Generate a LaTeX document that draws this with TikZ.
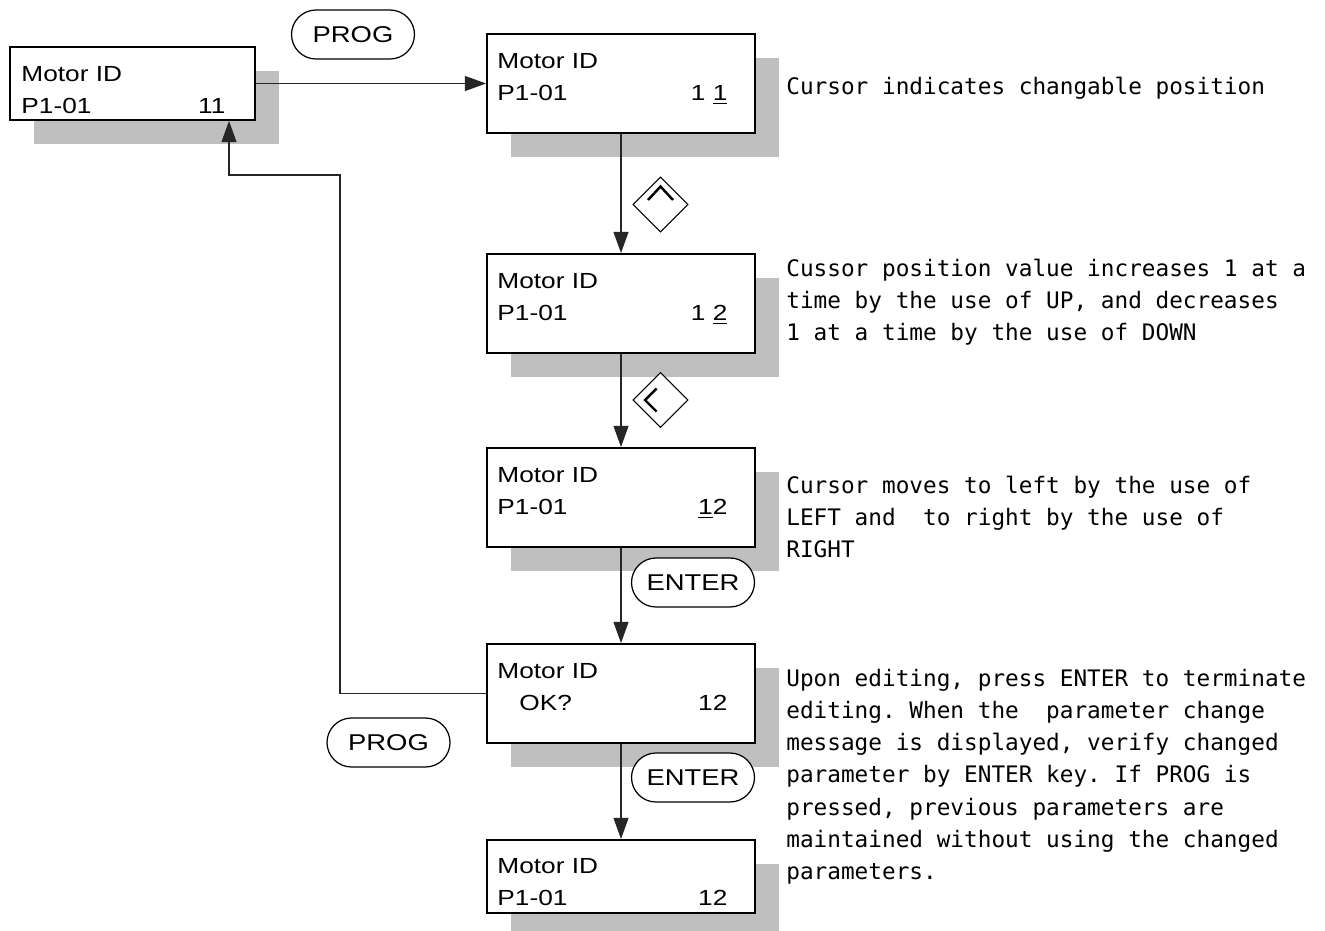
\documentclass[tikz,border=0pt]{standalone}
\usepackage{fontspec}
\usepackage{tikz}
\usetikzlibrary{
    shapes.geometric,
    shapes.misc,
    arrows.meta,
    positioning,
    calc,
    shadows
}
\newfontfamily\lcdfont[FakeStretch=1.2]{Liberation Sans}
\newfontfamily\notefont{DejaVu Sans Mono}
\newlength{\notecell}
\newcommand{\lcdgap}{\hskip 0pt plus 1filll\relax}
\newcommand{\monospaces}{\settowidth{\notecell}{a}%
    \spaceskip=\notecell\relax \xspaceskip=\notecell\relax}

\begin{document}
\begin{tikzpicture}[
            x=0.02cm, y=-0.02cm,
            lcd/.style={draw, line width=1.1pt, fill=white, inner sep=0pt,
                        minimum width=5.36cm, minimum height=1.98cm,
                        drop shadow={shadow xshift=0.48cm, shadow yshift=-0.48cm,
                                     fill=black!25, opacity=1}},
            lcdshort/.style={lcd, minimum height=1.46cm},
            lcdtext/.style={anchor=base west, inner sep=0pt, text width=4.6cm, align=left,
                            font=\lcdfont\fontsize{12.45}{18.7}\selectfont},
            keybox/.style={draw, rounded rectangle, line width=0.7pt, fill=white, inner sep=0pt,
                           minimum width=2.46cm, minimum height=0.98cm,
                           font=\lcdfont\fontsize{13}{15}\selectfont},
            keydiamond/.style={draw, diamond, line width=0.6pt, fill=white, inner sep=0pt,
                               minimum width=1.1cm, minimum height=1.1cm},
            chev/.style={line width=1.4pt},
            note/.style={anchor=base west, inner sep=0pt, text width=12cm, align=left,
                         font=\notefont\fontsize{12.93}{18.37}\selectfont},
            arr/.style={-{Triangle[length=12pt, width=8.5pt]}, line width=0.6pt, black!85}
        ]
            \useasboundingbox (0,0) rectangle (1325,930);

            % displays
            \node[lcdshort, minimum width=4.9cm] (lbox) at (132.5, 83.5) {};
            \node[lcd] (b1) at (621, 83.5) {};
            \node[lcd] (b2) at (621, 303.5) {};
            \node[lcd] (b3) at (621, 497.5) {};
            \node[lcd] (ok) at (621, 693.5) {};
            \node[lcdshort] (b5) at (621, 876.5) {};

            \node[lcdtext, text width=4.08cm] (lboxtxt) at ($(lbox.north west)+(12,35)$)
                {Motor ID\\P1-01\lcdgap 11};
            \node[lcdtext] (b1txt) at ($(b1.north west)+(11,35)$)
                {Motor ID\\P1-01\lcdgap 1 \underline{1}};
            \node[lcdtext] (b2txt) at ($(b2.north west)+(11,35)$)
                {Motor ID\\P1-01\lcdgap 1 \underline{2}};
            \node[lcdtext] (b3txt) at ($(b3.north west)+(11,35)$)
                {Motor ID\\P1-01\lcdgap \underline{1}2\hspace*{0.18cm}};
            \node[lcdtext] (oktxt) at ($(ok.north west)+(11,35)$)
                {Motor ID\\\hspace*{0.44cm}OK?\lcdgap 12\hspace*{0.2cm}};
            \node[lcdtext] (b5txt) at ($(b5.north west)+(11,34)$)
                {Motor ID\\P1-01\lcdgap 12\hspace*{0.2cm}};

            % keys
            \node[keybox] (progtop) at (353, 34.5) {PROG};
            \node[keybox] (progbot) at (388.5, 742.5) {PROG};
            \node[keybox] (enter1) at (693, 582.5) {ENTER};
            \node[keybox] (enter2) at (693, 777.5) {ENTER};

            \node[keydiamond] (upkey) at (660.5, 204.5) {};
            \node[keydiamond] (leftkey) at (660.5, 400) {};
            \draw[chev] ($(upkey)+(-12.5,-4.5)$) -- ($(upkey)+(0,-18)$) -- ($(upkey)+(12.5,-4.5)$);
            \draw[chev] ($(leftkey)+(-4,-11.5)$) -- ($(leftkey)+(-15.5,0)$) -- ($(leftkey)+(-4,11.5)$);

            % notes
            \node[note] (note1) at (786, 94)
                {\monospaces Cursor indicates changable position};
            \node[note] (note2) at (786, 276)
                {\monospaces Cussor position value increases 1 at a\\
                 time by the use of UP, and decreases\\
                 1 at a time by the use of DOWN};
            \node[note] (note3) at (786, 493)
                {\monospaces Cursor moves to left by the use of\\
                 LEFT and\ \ to right by the use of\\
                 RIGHT};
            \node[note] (note4) at (786, 686)
                {\monospaces Upon editing, press ENTER to terminate\\
                 editing. When the\ \ parameter change\\
                 message is displayed, verify changed\\
                 parameter by ENTER key. If PROG is\\
                 pressed, previous parameters are\\
                 maintained without using the changed\\
                 parameters.};

            % flow
            \coordinate (bendA) at (340, 175);
            \coordinate (bendB) at (229, 175);

            \draw[arr] (lbox) -- (b1);
            \draw[arr] (b1) -- (b2);
            \draw[arr] (b2) -- (b3);
            \draw[arr] (b3) -- (ok);
            \draw[arr] (ok) -- (b5);
            \draw[arr] (ok.west) -| (bendA) -- (bendB) -- (bendB |- lbox.south);
        \end{tikzpicture}
\end{document}
